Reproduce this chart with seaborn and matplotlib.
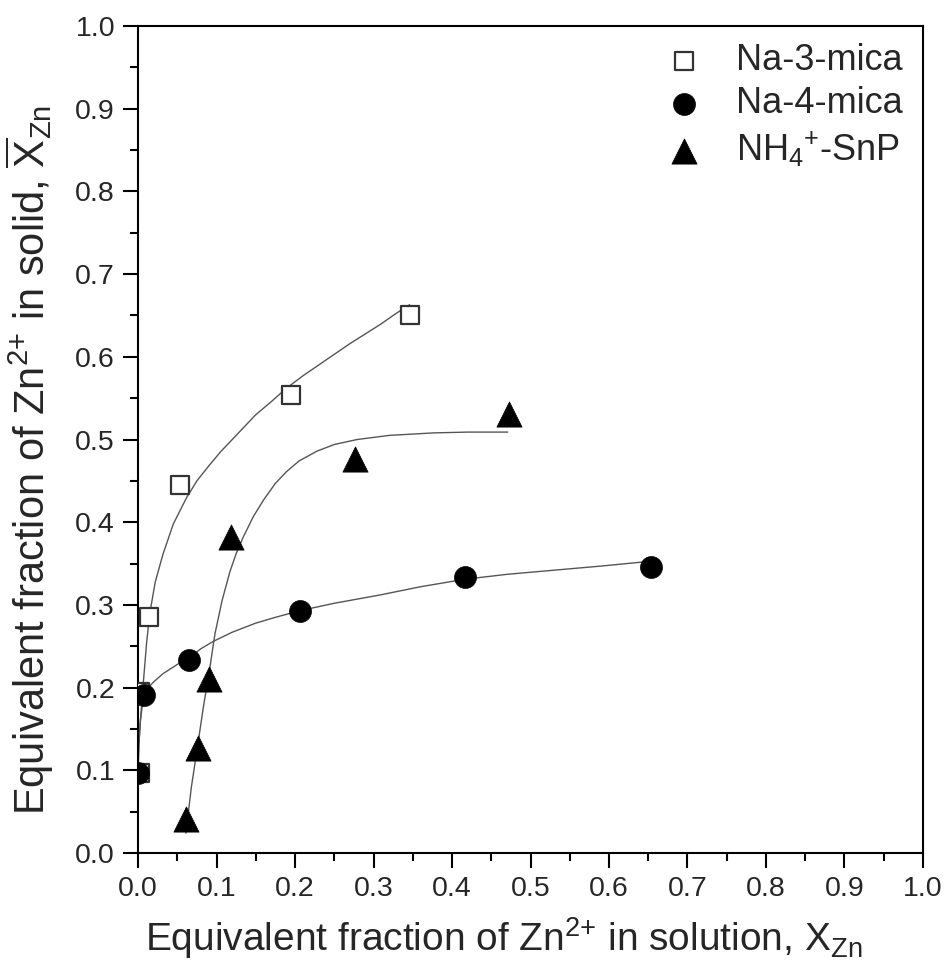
import numpy as np
import pandas as pd
import matplotlib
matplotlib.use("Agg")
import matplotlib.pyplot as plt
import seaborn as sns

sns.set_theme(style="ticks")
plt.rcParams['font.family'] = ['Liberation Sans', 'DejaVu Sans']
plt.rcParams['mathtext.fontset'] = 'custom'
plt.rcParams['mathtext.rm'] = 'Liberation Sans'
plt.rcParams['mathtext.it'] = 'Liberation Sans'
plt.rcParams['mathtext.bf'] = 'Liberation Sans:bold'
plt.rcParams['mathtext.default'] = 'regular'

# ---- data ----
series_names = ["Na-3-mica", "Na-4-mica", "NH$_4$$^{{+}}$-SnP"]

na3_x = [0.002, 0.003, 0.014, 0.054, 0.195, 0.346]
na3_y = [0.097, 0.195, 0.285, 0.445, 0.554, 0.651]

na4_x = [0.000, 0.007, 0.065, 0.206, 0.416, 0.654]
na4_y = [0.097, 0.191, 0.234, 0.293, 0.334, 0.346]

snp_x = [0.061, 0.076, 0.091, 0.119, 0.276, 0.472]
snp_y = [0.041, 0.127, 0.211, 0.382, 0.477, 0.531]

na3_fit_x = [0.000, 0.001, 0.003, 0.007, 0.011, 0.015, 0.022, 0.032, 0.045, 0.062, 0.075, 0.090,
             0.105, 0.120, 0.135, 0.150, 0.170, 0.189, 0.210, 0.230, 0.250, 0.270, 0.290, 0.310, 0.328, 0.346]
na3_fit_y = [0.097, 0.130, 0.160, 0.209, 0.255, 0.290, 0.328, 0.362, 0.398, 0.430, 0.450, 0.468,
             0.485, 0.500, 0.515, 0.530, 0.546, 0.562, 0.577, 0.590, 0.603, 0.616, 0.628, 0.640, 0.652, 0.663]

na4_fit_x = [0.000, 0.001, 0.003, 0.007, 0.013, 0.020, 0.032, 0.050, 0.065, 0.080, 0.096, 0.120,
             0.150, 0.175, 0.206, 0.250, 0.308, 0.360, 0.416, 0.470, 0.530, 0.590, 0.644]
na4_fit_y = [0.097, 0.130, 0.160, 0.190, 0.200, 0.207, 0.217, 0.228, 0.236, 0.247, 0.256, 0.267,
             0.278, 0.285, 0.293, 0.302, 0.312, 0.322, 0.331, 0.337, 0.342, 0.347, 0.352]

snp_fit_x = [0.061, 0.068, 0.076, 0.083, 0.091, 0.098, 0.107, 0.117, 0.125, 0.134, 0.147, 0.160,
             0.175, 0.189, 0.205, 0.228, 0.250, 0.279, 0.320, 0.376, 0.420, 0.471]
snp_fit_y = [0.024, 0.080, 0.130, 0.175, 0.221, 0.265, 0.305, 0.340, 0.362, 0.382, 0.407, 0.427,
             0.447, 0.461, 0.474, 0.486, 0.494, 0.500, 0.505, 0.508, 0.509, 0.509]

x_ticks = [0.0, 0.1, 0.2, 0.3, 0.4, 0.5, 0.6, 0.7, 0.8, 0.9, 1.0]
y_ticks = [0.0, 0.1, 0.2, 0.3, 0.4, 0.5, 0.6, 0.7, 0.8, 0.9, 1.0]

# ---- figure ----
fig = plt.figure(figsize=(9.48, 9.75), dpi=100)
ax = fig.add_axes([0.1456, 0.1251, 0.8280, 0.8482])

line_kw = dict(color="#555555", linewidth=1.0, estimator=None, sort=False, legend=False)
sns.lineplot(x=na3_fit_x, y=na3_fit_y, ax=ax, **line_kw)
sns.lineplot(x=na4_fit_x, y=na4_fit_y, ax=ax, **line_kw)
sns.lineplot(x=snp_fit_x, y=snp_fit_y, ax=ax, **line_kw)

sns.scatterplot(x=na3_x, y=na3_y, ax=ax, marker="s", s=150, facecolor="white",
                edgecolor="#333333", linewidth=1.6, label=series_names[0], zorder=3)
sns.scatterplot(x=na4_x, y=na4_y, ax=ax, marker="o", s=250, color="black",
                edgecolor="black", linewidth=0.5, label=series_names[1], zorder=3)
sns.scatterplot(x=snp_x, y=snp_y, ax=ax, marker="^", s=330, color="black",
                edgecolor="black", linewidth=0.5, label=series_names[2], zorder=3)

ax.set_xlim(0, 1)
ax.set_ylim(0, 1)
ax.set_xticks(x_ticks)
ax.set_yticks(y_ticks)
ax.set_xticklabels([f"{v:.1f}" for v in x_ticks])
ax.set_yticklabels([f"{v:.1f}" for v in y_ticks])
ax.set_xticks(np.arange(0.05, 1.0, 0.1), minor=True)
ax.set_yticks(np.arange(0.05, 1.0, 0.1), minor=True)
ax.tick_params(which="major", direction="out", length=10.5, width=1.5, labelsize=20.5, pad=6, color="black")
ax.tick_params(which="minor", direction="out", length=6, width=1.5, color="black")
for sp in ax.spines.values():
    sp.set_visible(True)
    sp.set_linewidth(1.5)
    sp.set_color("black")

ax.set_xlabel("Equivalent fraction of Zn$^{2{+}}$ in solution, X$_{Zn}$", fontsize=28)
ax.set_ylabel(r"Equivalent fraction of Zn$^{2{+}}$ in solid, $\overline{X}$$_{Zn}$", fontsize=30)
ax.xaxis.set_label_coords(0.466, -0.075)
ax.yaxis.set_label_coords(-0.104, 0.475)

leg = ax.legend(loc="upper right", bbox_to_anchor=(1.0, 1.003), frameon=False, fontsize=26,
                handlelength=1.0, handletextpad=0.95, labelspacing=0.22, borderaxespad=0.15)

fig.savefig("out.png", dpi=100)
